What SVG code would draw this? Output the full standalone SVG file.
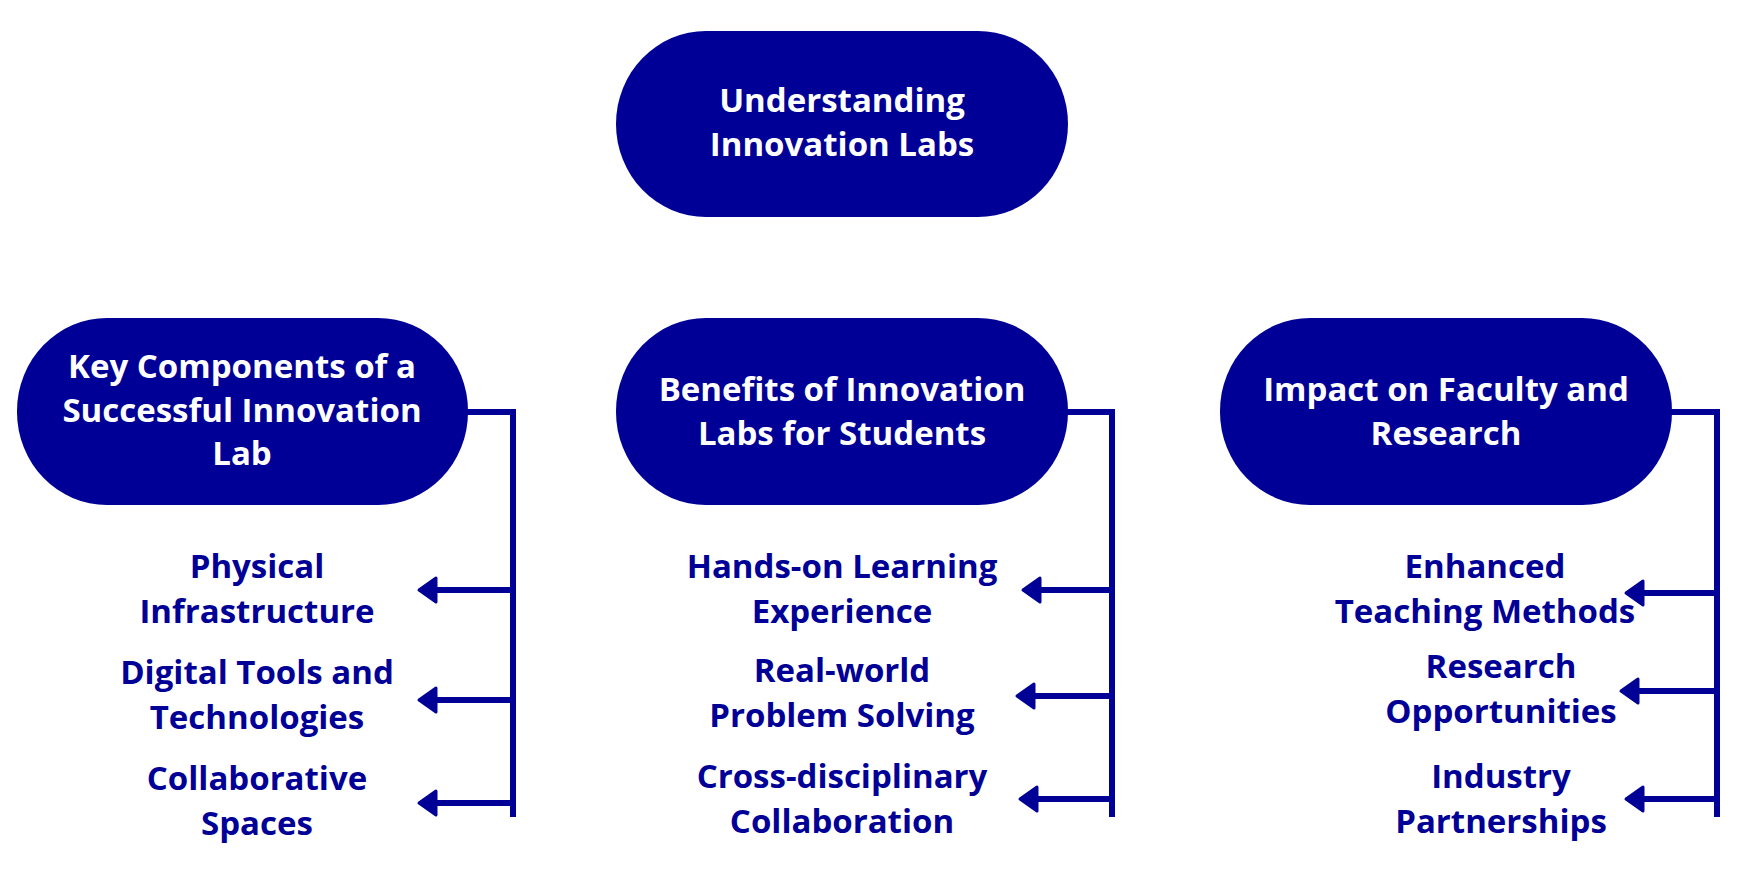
<svg xmlns="http://www.w3.org/2000/svg" width="1743" height="889" viewBox="0 0 1743 889">
<style>
.node{fill:#000096}
.nt{font-family:"Open Sans","Liberation Sans",sans-serif;font-weight:700;font-size:33px;fill:#ffffff;text-anchor:middle}
.lt{font-family:"Open Sans","Liberation Sans",sans-serif;font-weight:700;font-size:33px;fill:#000096;text-anchor:middle}
.wire{fill:none;stroke:#000096;stroke-width:6;stroke-linejoin:miter;stroke-linecap:butt}
.arr{fill:none;stroke:#000096;stroke-width:6;marker-end:url(#head)}
</style>
<defs>
<marker id="head" markerUnits="userSpaceOnUse" markerWidth="30" markerHeight="34" refX="8" refY="15" orient="auto">
<path d="M4,3 L21,15 L4,27 Z" fill="#000096" stroke="#000096" stroke-width="3" stroke-linejoin="round"/>
</marker>
</defs>
<rect width="1743" height="889" fill="#ffffff"/>
<g id="connectors">
<path class="wire" d="M460,412 H513 V817"/>
<line class="arr" x1="513" y1="590" x2="432" y2="590"/>
<line class="arr" x1="513" y1="700" x2="432" y2="700"/>
<line class="arr" x1="513" y1="803" x2="432" y2="803"/>
<path class="wire" d="M1060,412 H1112 V817"/>
<line class="arr" x1="1115" y1="590" x2="1036" y2="590"/>
<line class="arr" x1="1112" y1="696" x2="1030" y2="696"/>
<line class="arr" x1="1112" y1="799" x2="1033" y2="799"/>
<path class="wire" d="M1665,412 H1717 V817"/>
<line class="arr" x1="1720" y1="593" x2="1639" y2="593"/>
<line class="arr" x1="1717" y1="691" x2="1634" y2="691"/>
<line class="arr" x1="1717" y1="799" x2="1639" y2="799"/>
</g>
<g id="node-top">
<rect class="node" x="616" y="31" width="452" height="186" rx="90" ry="93"/>
<text class="nt" x="842" y="112">Understanding</text>
<text class="nt" x="842" y="156">Innovation Labs</text>
</g>
<g id="node-components">
<rect class="node" x="17" y="318" width="451" height="187" rx="90" ry="93"/>
<text class="nt" x="242" y="378">Key Components of a</text>
<text class="nt" x="242" y="422">Successful Innovation</text>
<text class="nt" x="242" y="465">Lab</text>
</g>
<g id="node-benefits">
<rect class="node" x="616" y="318" width="452" height="187" rx="90" ry="93"/>
<text class="nt" x="842" y="401">Benefits of Innovation</text>
<text class="nt" x="842" y="445">Labs for Students</text>
</g>
<g id="node-impact">
<rect class="node" x="1220" y="318" width="452" height="187" rx="90" ry="93"/>
<text class="nt" x="1446" y="401">Impact on Faculty and</text>
<text class="nt" x="1446" y="445">Research</text>
</g>
<g id="leaf-physical">
<text class="lt" x="257" y="578">Physical</text>
<text class="lt" x="257" y="623">Infrastructure</text>
</g>
<g id="leaf-digital">
<text class="lt" x="257" y="684">Digital Tools and</text>
<text class="lt" x="257" y="729">Technologies</text>
</g>
<g id="leaf-collab-spaces">
<text class="lt" x="257" y="790">Collaborative</text>
<text class="lt" x="257" y="835">Spaces</text>
</g>
<g id="leaf-handson">
<text class="lt" x="842" y="578">Hands-on Learning</text>
<text class="lt" x="842" y="623">Experience</text>
</g>
<g id="leaf-realworld">
<text class="lt" x="842" y="682">Real-world</text>
<text class="lt" x="842" y="727">Problem Solving</text>
</g>
<g id="leaf-cross">
<text class="lt" x="842" y="788">Cross-disciplinary</text>
<text class="lt" x="842" y="833">Collaboration</text>
</g>
<g id="leaf-teaching">
<text class="lt" x="1485" y="578">Enhanced</text>
<text class="lt" x="1485" y="623">Teaching Methods</text>
</g>
<g id="leaf-research">
<text class="lt" x="1501" y="678">Research</text>
<text class="lt" x="1501" y="723">Opportunities</text>
</g>
<g id="leaf-industry">
<text class="lt" x="1501" y="788">Industry</text>
<text class="lt" x="1501" y="833">Partnerships</text>
</g>
</svg>
